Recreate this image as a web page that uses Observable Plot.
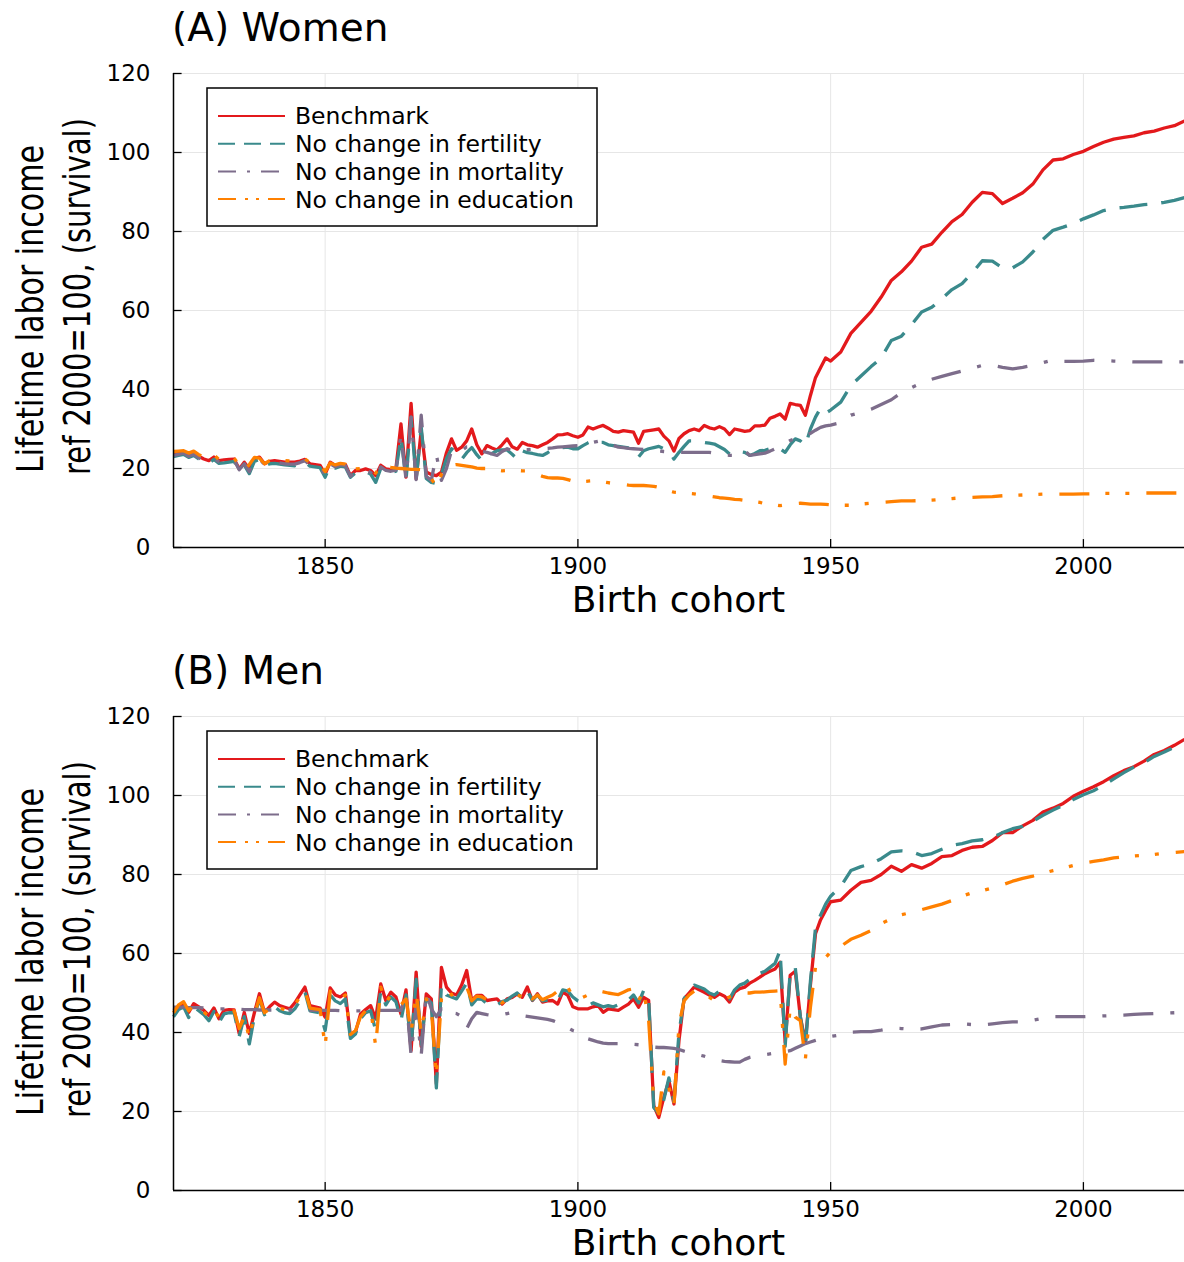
<!DOCTYPE html>
<html>
<head>
<meta charset="utf-8">
<script src="https://cdn.jsdelivr.net/npm/d3@7"></script>
<script src="https://cdn.jsdelivr.net/npm/@observablehq/plot@0.6"></script>
<style>
  body { margin: 0; background: #fff; }
  svg { display: block; }
</style>
</head>
<body>
<div id="chart"></div>
<script>
// ---------- categories / ticks ----------
const years = [...d3.range(1820, 1951), ...d3.range(1952, 2021, 2)];
const xTicks = [1850, 1900, 1950, 2000];
const yTicks = [0, 20, 40, 60, 80, 100, 120];
const seriesNames = ["Benchmark", "No change in fertility", "No change in mortality", "No change in education"];

// ---------- (A) Women ----------
const womenBenchmark = [
  23.9, 24.1, 24.3, 23.5, 24.1, 23.1, 22.4, 22.0, 22.9, 22.0,
  22.2, 22.3, 22.4, 19.9, 21.6, 19.9, 22.5, 22.9, 21.2, 21.8,
  22.0, 21.8, 21.6, 21.6, 21.6, 21.9, 22.3, 21.2, 21.0, 20.8,
  18.6, 21.6, 20.8, 21.2, 21.0, 18.2, 19.5, 19.5, 19.9, 19.5,
  18.2, 20.8, 19.9, 19.7, 20.0, 31.3, 17.8, 36.5, 17.4, 29.6,
  19.1, 18.5, 18.2, 19.1, 24.0, 27.5, 24.6, 25.4, 27.0, 30.0,
  26.0, 23.7, 25.8, 25.2, 24.7, 26.0, 27.5, 25.5, 24.9, 26.6,
  26.0, 25.8, 25.4, 26.0, 26.6, 27.5, 28.5, 28.6, 28.8, 28.3,
  27.9, 28.5, 30.5, 30.0, 30.5, 30.9, 30.2, 29.4, 29.2, 29.6,
  29.4, 29.2, 26.4, 29.4, 29.6, 29.8, 30.0, 28.2, 27.0, 24.4,
  27.6, 28.8, 29.6, 30.0, 29.6, 30.9, 30.3, 30.0, 30.6, 30.0,
  28.6, 30.0, 29.7, 29.4, 29.6, 30.8, 30.8, 31.0, 32.7, 33.2,
  33.8, 32.5, 36.5, 36.2, 36.0, 33.5, 38.5, 43.0, 45.5, 48.0,
  47.2,
  49.5, 54.2, 57.0, 59.8, 63.4, 67.6, 69.8, 72.5, 76.0, 76.8,
  79.8, 82.5, 84.3, 87.4, 89.9, 89.6, 87.1, 88.4, 89.8, 92.0,
  95.6, 98.1, 98.4, 99.5, 100.3, 101.5, 102.6, 103.4, 103.8, 104.2,
  105.0, 105.4, 106.2, 106.8, 108.0
];
const womenFertility = [
  23.0, 23.3, 23.6, 22.8, 23.3, 22.4, 21.8, 21.3, 22.3, 21.3,
  21.4, 21.6, 21.8, 19.5, 20.9, 18.7, 21.8, 22.3, 20.6, 21.2,
  21.3, 21.1, 20.9, 20.8, 20.7, 21.1, 21.7, 20.6, 20.4, 20.2,
  17.8, 20.8, 20.1, 20.6, 20.4, 17.8, 18.9, 18.8, 19.2, 18.6,
  16.5, 20.0, 19.2, 19.0, 19.3, 28.0, 17.0, 33.0, 17.0, 30.5,
  17.5, 16.5, 16.2, 18.5, 22.5, 25.0, 24.0, 22.3, 24.0, 25.3,
  23.5, 22.0, 23.7, 23.8, 24.5, 24.7, 24.7, 23.6, 22.4, 24.5,
  24.0, 23.8, 23.5, 23.3, 24.0, 24.8, 25.0, 25.3, 25.4, 25.0,
  25.0, 25.8, 26.5, 27.1, 26.6, 26.6, 26.0, 25.8, 25.6, 25.4,
  25.2, 24.7, 22.9, 24.5, 25.0, 25.3, 25.6, 25.0, 24.5, 22.4,
  24.1, 25.6, 27.0, 27.0, 26.8, 26.6, 26.4, 26.2, 25.5, 24.8,
  23.7, 24.5, 24.3, 24.1, 23.3, 23.8, 24.5, 24.6, 25.0, 25.4,
  25.0, 24.1, 26.0, 27.5, 27.0, 25.8, 30.0, 33.0, 35.3, 34.0,
  34.8,
  36.8, 41.0, 43.4, 45.8, 48.0, 52.4, 53.5, 56.4, 59.6, 60.8,
  63.0, 65.3, 66.8, 69.5, 72.6, 72.5, 70.8, 70.8, 72.3, 74.8,
  78.0, 80.3, 81.1, 82.0, 83.2, 84.2, 85.3, 85.9, 86.1, 86.4,
  86.8, 87.0, 87.4, 87.9, 88.6
];
const womenMortality = [
  23.3, 23.6, 23.9, 23.1, 23.6, 22.7, 22.1, 21.8, 22.6, 21.7,
  21.8, 21.9, 22.1, 19.7, 21.2, 19.2, 22.1, 22.6, 20.9, 21.5,
  21.6, 21.4, 21.2, 21.1, 21.1, 21.5, 22.0, 20.9, 20.7, 20.5,
  18.2, 21.2, 20.4, 20.9, 20.7, 18.0, 19.2, 19.1, 19.5, 19.0,
  17.3, 20.4, 19.5, 19.3, 19.6, 28.5, 17.2, 33.0, 17.2, 33.5,
  18.0, 17.0, 23.5, 17.0, 20.0, 24.5, 24.0, 24.5, 25.5, 25.5,
  25.0, 24.3, 24.1, 23.7, 23.3, 24.3, 25.0, 24.5, 24.3, 24.8,
  24.8, 24.9, 25.0, 25.0, 25.1, 25.2, 25.4, 25.5, 25.6, 25.7,
  25.8, 25.8, 26.2, 26.6, 26.9, 27.1, 26.5, 25.9, 25.4, 25.3,
  25.1, 25.0, 24.9, 24.8, 24.6, 24.5, 24.4, 24.3, 24.2, 24.1,
  24.1, 24.1, 24.1, 24.1, 24.1, 24.1, 24.1, 23.9, 23.7, 23.5,
  23.3, 23.3, 23.3, 24.5, 23.3, 23.5, 23.7, 23.9, 24.4, 25.0,
  25.8, 26.4, 27.1, 27.6, 28.3, 28.6, 28.9, 29.7, 30.4, 30.8,
  31.0,
  31.6, 33.5, 34.2, 35.0, 36.2, 37.4, 39.2, 40.5, 41.7, 42.6,
  43.3, 44.0, 44.7, 45.4, 46.1, 46.1, 45.6, 45.2, 45.6, 46.1,
  46.8, 47.5, 47.1, 47.1, 47.2, 47.4, 47.3, 47.2, 47.1, 47.0,
  47.0, 47.0, 47.0, 47.0, 47.0
];
const womenEducation = [
  24.3, 24.4, 24.5, 23.9, 24.4, 23.5, 22.9, 22.6, 23.4, 22.3,
  22.5, 22.5, 22.6, 20.8, 19.5, 21.0, 22.8, 22.6, 21.2, 22.0,
  22.2, 22.1, 22.0, 21.9, 21.9, 22.1, 22.4, 21.5, 21.2, 21.0,
  19.2, 21.4, 20.9, 21.3, 21.1, 19.0, 19.9, 20.0, 20.2, 19.8,
  18.8, 20.9, 20.6, 20.3, 20.1, 20.0, 19.9, 19.8, 19.8, 19.7,
  19.3, 17.5, 15.3, 18.5, 20.3, 20.8, 21.0, 20.8, 20.6, 20.4,
  20.1, 20.0, 20.0, 19.8, 19.6, 19.4, 19.5, 19.6, 19.5, 19.4,
  19.4, 19.0, 18.5, 18.0, 17.7, 17.6, 17.6, 17.5, 17.2, 16.8,
  16.5, 16.7, 16.8, 16.9, 16.8, 16.6, 16.4, 16.2, 16.1, 16.0,
  15.8, 15.7, 15.7, 15.7, 15.6, 15.5, 15.2, 14.8, 14.3, 14.0,
  13.9, 13.8, 13.7, 13.6, 13.4, 13.2, 13.0, 12.8, 12.6, 12.5,
  12.4, 12.2, 12.1, 11.9, 11.8, 11.6, 11.4, 11.1, 11.0, 10.8,
  10.6, 10.8, 10.9, 11.1, 11.2, 11.1, 11.0, 11.0, 11.0, 10.9,
  10.8,
  10.7, 10.7, 11.0, 11.2, 11.4, 11.6, 11.8, 11.8, 11.9, 12.0,
  12.2, 12.4, 12.6, 12.7, 12.8, 12.9, 13.1, 13.2, 13.3, 13.4,
  13.5, 13.5, 13.5, 13.5, 13.6, 13.6, 13.7, 13.7, 13.7, 13.7,
  13.8, 13.8, 13.8, 13.8, 13.8
];

// ---------- (B) Men ----------
const menBenchmark = [
  45.6, 46.5, 47.4, 45.1, 47.3, 46.5, 45.6, 44.3, 46.2, 43.5,
  45.6, 45.8, 45.7, 39.7, 45.1, 39.7, 45.0, 49.8, 45.1, 46.5,
  47.7, 46.8, 46.4, 46.0, 47.5, 49.5, 51.5, 46.8, 46.5, 46.2,
  43.9, 51.3, 49.5, 49.0, 50.0, 39.2, 40.1, 44.7, 45.8, 46.8,
  43.5, 52.3, 48.1, 50.2, 49.0, 44.7, 50.8, 35.4, 55.3, 36.5,
  49.8, 48.5, 27.0, 56.5, 51.5, 50.0, 49.5, 52.0, 55.7, 48.1,
  49.4, 49.4, 48.1, 48.3, 48.5, 47.2, 48.5, 48.9, 49.8, 48.9,
  51.5, 48.1, 49.8, 47.7, 48.0, 48.1, 47.2, 50.3, 49.4, 46.5,
  46.0, 46.0, 46.0, 46.5, 46.8, 45.1, 46.0, 45.8, 45.6, 46.4,
  47.2, 48.5, 46.4, 48.9, 48.1, 21.5, 18.5, 23.6, 27.8, 21.9,
  38.0, 48.5, 50.0, 51.5, 50.8, 50.2, 49.5, 48.9, 49.8, 49.2,
  47.7, 50.2, 51.1, 51.5, 52.5, 53.2, 54.0, 54.9, 55.5, 56.1,
  57.8, 37.5, 54.5, 55.5, 44.0, 37.5, 52.0, 65.0, 68.5, 70.9,
  73.1,
  73.5, 76.0, 78.0, 78.5, 80.0, 82.1, 80.8, 82.5, 81.6, 82.8,
  84.5, 84.8, 86.1, 86.9, 87.1, 88.6, 90.6, 90.6, 92.3, 93.7,
  95.8, 96.8, 98.0, 99.8, 101.1, 102.2, 103.5, 105.0, 106.3, 107.3,
  108.7, 110.4, 111.4, 112.7, 114.2
];
const menFertility = [
  44.0, 45.8, 46.5, 43.8, 46.5, 45.5, 44.5, 43.0, 45.3, 42.5,
  44.7, 45.0, 45.0, 39.0, 44.0, 37.1, 44.0, 48.5, 44.5, 45.3,
  46.5, 45.5, 45.0, 44.8, 46.0, 48.0, 50.3, 45.5, 45.2, 45.0,
  40.5, 49.5, 48.0, 47.3, 48.5, 38.5, 39.6, 43.5, 45.0, 45.5,
  40.5, 50.5, 47.0, 49.0, 47.8, 43.0, 49.5, 36.0, 53.5, 37.0,
  48.5, 47.5, 26.0, 52.0, 49.5, 49.0, 48.5, 50.5, 52.5, 47.0,
  48.5, 48.4, 47.3, 47.6, 47.0, 47.8, 48.2, 49.2, 50.0, 48.5,
  50.5, 48.2, 49.5, 48.0, 48.2, 48.0, 48.0, 50.8, 50.5, 49.0,
  48.0, 47.5, 46.8, 47.5, 47.0, 46.5, 46.8, 46.5, 47.0, 47.5,
  48.2, 49.5, 47.5, 50.6, 48.5, 21.0, 19.5, 23.0, 28.5, 22.5,
  40.0, 48.5, 50.5, 52.0, 51.5, 51.0, 50.0, 49.5, 50.5, 49.8,
  48.5, 50.8, 52.0, 52.5, 53.5, 54.0, 55.0, 55.5, 56.5, 57.5,
  60.8, 36.5, 55.5, 56.5, 44.0, 36.5, 53.0, 66.5, 69.7, 72.5,
  74.5,
  77.0, 81.0, 82.0, 82.7, 84.0, 85.7, 86.0, 85.8, 84.8, 85.3,
  86.4, 87.4, 87.8, 88.5, 88.8, 89.4, 90.6, 91.6, 92.2, 93.5,
  95.0, 96.3, 97.5, 99.0, 100.2, 101.2, 102.6, 104.2, 105.8, 107.2,
  108.3, 109.9, 111.0, 112.2, 113.5
];
const menMortality = [
  46.4, 46.4, 46.4, 46.3, 46.3, 46.3, 46.2, 46.1, 46.0, 46.0,
  46.0, 46.0, 45.9, 45.9, 45.8, 45.8, 45.8, 45.7, 45.7, 45.7,
  45.7, 45.7, 45.7, 45.7, 45.7, 45.7, 45.7, 45.6, 45.6, 45.6,
  45.6, 45.6, 45.6, 45.5, 45.5, 45.5, 45.5, 45.5, 45.5, 45.5,
  45.5, 45.6, 45.6, 45.6, 45.6, 45.6, 49.5, 34.2, 47.0, 34.2,
  50.2, 46.0, 44.0, 46.0, 44.5, 45.0, 44.8, 44.0, 41.0, 43.5,
  45.1, 44.8, 44.5, 44.3, 44.3, 44.5, 44.8, 45.1, 44.8, 44.3,
  44.1, 43.9, 43.7, 43.5, 43.3, 43.0, 42.5, 41.8, 41.2, 40.5,
  40.1, 39.7, 38.4, 38.0, 37.6, 37.3, 37.2, 37.2, 37.2, 37.2,
  37.2, 37.0, 36.9, 36.7, 36.4, 36.3, 36.2, 36.2, 36.1, 36.0,
  35.7, 35.3, 35.0, 34.6, 34.3, 34.0, 33.6, 33.2, 32.9, 32.7,
  32.6, 32.5, 32.5, 33.2, 33.7, 34.0, 34.2, 34.4, 34.6, 34.8,
  35.0, 35.2, 35.4, 36.0, 36.6, 37.2, 37.6, 38.0, 38.4, 38.7,
  39.0,
  39.4, 40.1, 40.2, 40.2, 40.6, 41.1, 41.0, 40.8, 40.9, 41.4,
  41.9, 42.0, 42.2, 42.0, 41.9, 42.2, 42.5, 42.7, 42.7, 43.1,
  43.6, 44.0, 44.0, 44.0, 44.0, 44.1, 44.2, 44.3, 44.4, 44.6,
  44.7, 44.8, 44.9, 45.0, 45.1
];
const menEducation = [
  45.0, 47.0, 47.8, 45.5, 47.0, 46.0, 45.2, 44.0, 45.8, 43.8,
  45.2, 45.5, 45.5, 41.0, 44.0, 38.5, 44.5, 48.8, 45.0, 46.0,
  47.0, 46.2, 45.8, 45.5, 47.0, 49.0, 50.8, 46.2, 46.0, 45.8,
  36.5, 50.5, 49.0, 48.5, 49.5, 39.5, 40.5, 44.0, 45.5, 46.0,
  36.5, 51.5, 47.5, 49.5, 48.5, 47.0, 48.5, 40.0, 50.0, 40.0,
  48.5, 46.0, 29.0, 48.5, 51.0, 49.5, 50.0, 50.5, 51.5, 48.0,
  49.2, 49.0, 48.3, 48.5, 48.5, 47.5, 48.5, 48.5, 49.5, 49.0,
  50.5, 48.5, 49.5, 48.3, 48.9, 49.5, 50.5, 51.9, 51.5, 49.0,
  48.9, 48.9, 49.5, 50.0, 50.6, 50.3, 50.0, 49.8, 49.6, 50.2,
  50.8, 51.1, 48.1, 50.6, 43.0, 22.5, 19.4, 30.0, 26.0, 21.5,
  42.0, 48.0, 49.5, 50.5, 49.8, 49.2, 48.9, 48.1, 48.5, 48.5,
  49.0, 49.5, 49.8, 50.0, 50.0, 50.2, 50.2, 50.3, 50.4, 50.5,
  50.6, 32.0, 46.4, 43.9, 43.0, 33.3, 46.4, 56.5, 57.5, 59.0,
  60.4,
  61.8, 63.6, 64.6, 65.8, 67.6, 68.8, 69.8, 70.4, 71.1, 71.8,
  72.5, 73.4, 74.5, 75.4, 75.9, 76.6, 77.4, 78.3, 79.0, 79.6,
  80.3, 81.0, 81.6, 82.3, 82.9, 83.3, 83.7, 84.2, 84.5, 84.7,
  84.9, 85.1, 85.4, 85.6, 85.8
];

// ---------- styles ----------
const seriesColors = ["#e3191c", "#3a8a8c", "#7d6d8b", "#ff8000"];
const plotDash = [null, "28,14", "30,17,4,17", "30,16,4,16,4,17"];
const legendDash = [null, "17,9", "18,11,3,11", "18,9,3,8,3,9"];
const FONT = "DejaVu Sans, Verdana, sans-serif";

function buildPanel(title, seriesValues, height) {
  const marks = [
    Plot.ruleX(xTicks, {stroke: "#e6e6e6", strokeWidth: 1}),
    Plot.ruleY(yTicks.slice(1), {stroke: "#e6e6e6", strokeWidth: 1})
  ];
  seriesValues.forEach((vals, k) => {
    const data = years.map((yr, i) => ({year: yr, value: vals[i], series: seriesNames[k]}));
    const opts = {x: "year", y: "value", stroke: seriesColors[k], strokeWidth: 3.3,
                  strokeLinecap: "butt", strokeLinejoin: "round"};
    if (plotDash[k]) opts.strokeDasharray = plotDash[k];
    marks.push(Plot.line(data, opts));
  });
  marks.push(
    Plot.ruleX([1820], {stroke: "#000", strokeWidth: 1.5}),
    Plot.ruleY([0], {stroke: "#000", strokeWidth: 1.5}),
    Plot.ruleX(xTicks, {y1: 0, y2: 2, stroke: "#000", strokeWidth: 1.3}),
    Plot.ruleY(yTicks, {x1: 1820, x2: 1821.7, stroke: "#000", strokeWidth: 1.3})
  );

  const svgNode = Plot.plot({
    width: 1184,
    height: height,
    marginLeft: 173,
    marginRight: 0,
    marginTop: 73,
    marginBottom: height - 547,
    style: {fontFamily: FONT, fontSize: "23px", color: "#000", background: "#fff", overflow: "visible"},
    x: {domain: [1820, 2020], ticks: xTicks, tickSize: 0, tickPadding: 10, tickFormat: d => String(d), label: null},
    y: {domain: [0, 120], ticks: yTicks, tickSize: 0, tickPadding: 23, tickFormat: d => String(d), label: null},
    marks
  });

  const svg = d3.select(svgNode);
  const txt = (sel) => sel.attr("font-family", FONT).attr("fill", "#000");
  // title
  txt(svg.append("text")).attr("x", 172).attr("y", 41).attr("text-anchor", "start")
    .attr("font-size", 39).text(title);
  // x label
  txt(svg.append("text")).attr("x", 678.5).attr("y", 612).attr("text-anchor", "middle")
    .attr("font-size", 36).text("Birth cohort");
  // y label (two lines, condensed)
  txt(svg.append("text")).attr("transform", "translate(43,473) rotate(-90)")
    .attr("text-anchor", "start").attr("font-size", 38)
    .attr("textLength", 328).attr("lengthAdjust", "spacingAndGlyphs")
    .text("Lifetime labor income");
  txt(svg.append("text")).attr("transform", "translate(90,475) rotate(-90)")
    .attr("text-anchor", "start").attr("font-size", 38)
    .attr("textLength", 357).attr("lengthAdjust", "spacingAndGlyphs")
    .text("ref 2000=100, (survival)");
  // legend
  const lg = svg.append("g");
  lg.append("rect").attr("x", 207).attr("y", 88).attr("width", 390).attr("height", 138)
    .attr("fill", "#fff").attr("stroke", "#000").attr("stroke-width", 1.5);
  seriesNames.forEach((name, k) => {
    const yy = 116 + k * 27.7;
    const ln = lg.append("line").attr("x1", 218).attr("x2", 285).attr("y1", yy).attr("y2", yy)
      .attr("stroke", seriesColors[k]).attr("stroke-width", k === 0 ? 1.8 : 2);
    if (legendDash[k]) ln.attr("stroke-dasharray", legendDash[k]);
    txt(lg.append("text")).attr("x", 295).attr("y", yy).attr("dy", "0.36em")
      .attr("text-anchor", "start").attr("font-size", 23.5).text(name);
  });
  return svgNode;
}

const root = document.getElementById("chart");
root.appendChild(buildPanel("(A) Women", [womenBenchmark, womenFertility, womenMortality, womenEducation], 643));
root.appendChild(buildPanel("(B) Men", [menBenchmark, menFertility, menMortality, menEducation], 619));
</script>
</body>
</html>
